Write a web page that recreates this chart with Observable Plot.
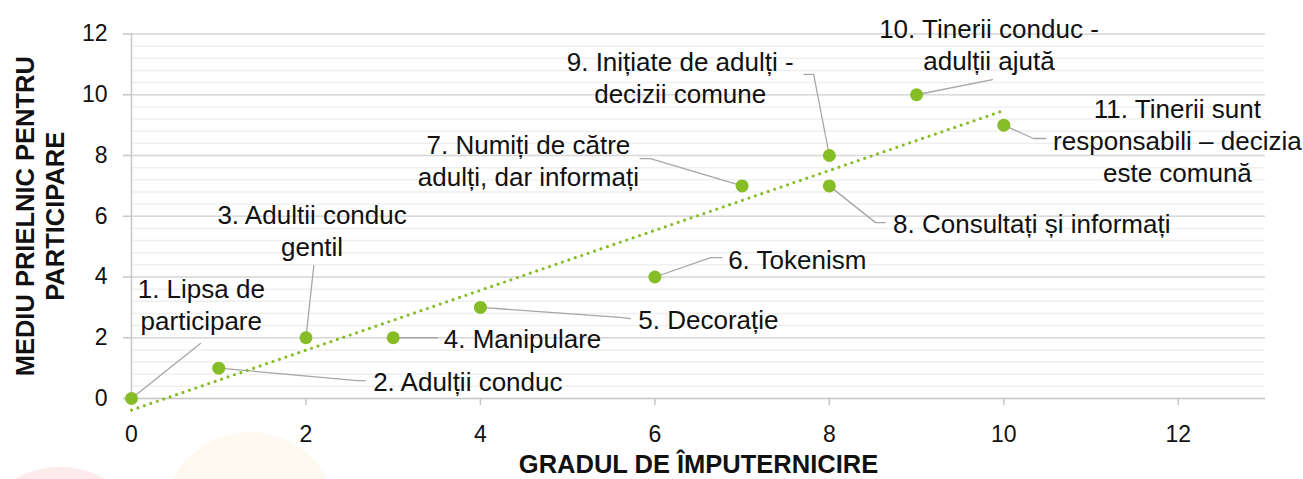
<!DOCTYPE html>
<html><head><meta charset="utf-8">
<script src="https://cdn.jsdelivr.net/npm/d3@7"></script>
<script src="https://cdn.jsdelivr.net/npm/@observablehq/plot@0.6"></script>
<style>
body{margin:0;background:#fff;}
#wrap{position:relative;width:1303px;height:479px;overflow:hidden;}
.deco{position:absolute;border-radius:50%;}
#chart{position:absolute;left:0;top:0;}
</style></head><body>
<div id="wrap">
<div class="deco" style="left:-30px;top:467px;width:180px;height:180px;background:#fdeaec"></div>
<div class="deco" style="left:163px;top:432px;width:174px;height:174px;background:#fffaf1"></div>
<div id="chart"></div>
</div>
<script>
// ---- data ----
const stages = [
  "1. Lipsa de\nparticipare",
  "2. Adulții conduc",
  "3. Adultii conduc\ngentil",
  "4. Manipulare",
  "5. Decorație",
  "6. Tokenism",
  "7. Numiți de către\nadulți, dar informați",
  "8. Consultați și informați",
  "9. Inițiate de adulți -\ndecizii comune",
  "10. Tinerii conduc -\nadulții ajută",
  "11. Tinerii sunt\nresponsabili – decizia\neste comună"
];
const empowerment   = [0, 1, 2, 3, 4, 6, 7, 8, 8, 9, 10];
const participation = [0, 1, 2, 2, 3, 4, 7, 7, 8, 10, 9];
const xTicks = [0, 2, 4, 6, 8, 10, 12];
const yTicks = [0, 2, 4, 6, 8, 10, 12];
const xTitle = "GRADUL DE ÎMPUTERNICIRE";
const yTitle = "MEDIU PRIELNIC PENTRU\nPARTICIPARE";

// ---- annotation layout (data units) ----
const labelX = [0.80, 2.77, 2.07, 3.58, 5.81, 6.84, 4.55, 8.73, 6.29, 9.83, 11.99];
const labelY = [3.11, 0.59, 5.56, 2.00, 2.63, 4.61, 7.87, 5.79, 10.60, 11.67, 8.53];
const labelAnchor = ["middle","start","middle","start","start","start","middle","start","middle","middle","middle"];
const leaderBends = [
  [[0.79, 1.81]],
  [[2.59, 0.59], [2.68, 0.59]],
  [[2.09, 4.38]],
  [[3.51, 2.00]],
  [[5.60, 2.67], [5.72, 2.63]],
  [[6.64, 4.64], [6.77, 4.64]],
  [[5.95, 7.90], [5.83, 7.90]],
  [[8.53, 5.79], [8.64, 5.79]],
  [[7.82, 10.67], [7.71, 10.67]],
  [[9.87, 10.50]],
  [[10.34, 8.56], [10.48, 8.56]]
];

const points = stages.map((s, i) => ({stage: s, x: empowerment[i], y: participation[i]}));
const labels = stages.map((s, i) => ({text: s, x: labelX[i], y: labelY[i], anchor: labelAnchor[i]}));
const leaders = [];
stages.forEach((s, i) => {
  leaders.push({i, x: empowerment[i], y: participation[i]});
  leaderBends[i].forEach(([x, y]) => leaders.push({i, x, y}));
});
const yMinor = d3.range(0, 12.001, 0.4);

const green = "#86bc25";
const axisGray = "#c6c6c6";
const ink = "#111111";
const font = "'Liberation Sans', Arial, Helvetica, sans-serif";

const chart = Plot.plot({
  width: 1303, height: 479,
  marginLeft: 131, marginRight: 38, marginTop: 33.5, marginBottom: 81,
  style: {background: "transparent", fontFamily: font, color: ink, overflow: "visible"},
  x: {domain: [0, 13], axis: null},
  y: {domain: [0, 12], axis: null},
  marks: [
    Plot.ruleY(yMinor, {stroke: "#efefef", strokeWidth: 1.5}),
    Plot.ruleY(yTicks.slice(1), {stroke: "#d9d9d9", strokeWidth: 1.5}),
    Plot.ruleY([0], {stroke: axisGray, strokeWidth: 1.5}),
    Plot.ruleX([0], {y1: 0, y2: 12, stroke: axisGray, strokeWidth: 1.5}),
    // tick marks
    Plot.axisX({ticks: xTicks, label: null, tickSize: 7, tickFormat: () => "", stroke: axisGray, strokeWidth: 1.5}),
    Plot.axisY({ticks: yTicks, label: null, tickSize: 8, tickFormat: () => "", stroke: axisGray, strokeWidth: 1.5}),
    // tick labels
    Plot.axisX({ticks: xTicks, label: null, tickSize: 0, tickPadding: 27, fill: ink, fontSize: 23, tickFormat: d => d}),
    Plot.axisY({ticks: yTicks, label: null, tickSize: 0, tickPadding: 24, fill: ink, fontSize: 23, tickFormat: d => d}),
    Plot.line(leaders, {x: "x", y: "y", z: "i", stroke: "#a6a6a6", strokeWidth: 1.3}),
    Plot.linearRegressionY(points, {x: "x", y: "y", ci: 0, stroke: green, strokeWidth: 3.2, strokeDasharray: "0,6.8", strokeLinecap: "round"}),
    Plot.dot(points, {x: "x", y: "y", r: 6.5, fill: green}),
    Plot.text(labels.filter(d => d.anchor === "middle"), {x: "x", y: "y", text: "text", textAnchor: "middle", lineAnchor: "middle", fontSize: 26, lineHeight: 1.23, fill: ink}),
    Plot.text(labels.filter(d => d.anchor === "start"), {x: "x", y: "y", text: "text", textAnchor: "start", lineAnchor: "middle", fontSize: 26, lineHeight: 1.23, fill: ink}),
    Plot.text([xTitle], {text: d => d, frameAnchor: "bottom", dy: 66, textAnchor: "middle", lineAnchor: "middle", fontSize: 25.5, fontWeight: "bold", fill: "#111"}),
    Plot.text([yTitle], {text: d => d, frameAnchor: "left", dx: -92, rotate: -90, textAnchor: "middle", lineAnchor: "middle", fontSize: 25.5, fontWeight: "bold", lineHeight: 1.15, fill: "#111"})
  ]
});
document.getElementById("chart").appendChild(chart);
</script>
</body></html>
